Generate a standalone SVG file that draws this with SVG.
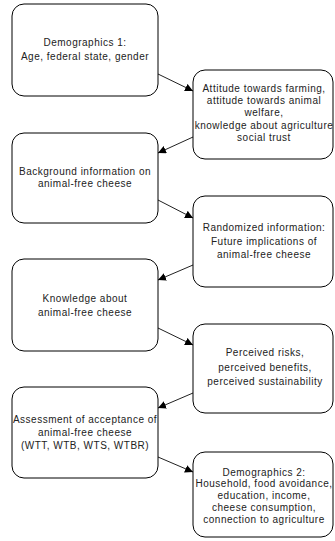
<svg xmlns="http://www.w3.org/2000/svg" width="335" height="541" viewBox="0 0 335 541">
<style>
.box{fill:#fff;stroke:#000;stroke-width:1}
text{font-family:"Liberation Sans",Arial,sans-serif;font-size:10px;letter-spacing:0.5px;fill:#222;text-anchor:middle}
.c{stroke:#222;stroke-width:1;fill:none;marker-end:url(#ah)}
</style>
<defs>
<marker id="ah" viewBox="0 0 10 10" refX="10" refY="5" markerWidth="8" markerHeight="8" orient="auto" markerUnits="userSpaceOnUse">
<path d="M0,0 L10,5 L0,10 z" fill="#000"/>
</marker>
</defs>
<rect width="335" height="541" fill="#fff"/>
<g id="connectors">
<line class="c" x1="158" y1="74" x2="193" y2="91"/>
<line class="c" x1="193" y1="137" x2="158" y2="153"/>
<line class="c" x1="158" y1="200" x2="193" y2="218"/>
<line class="c" x1="193" y1="265" x2="158" y2="280"/>
<line class="c" x1="158" y1="328" x2="193" y2="345"/>
<line class="c" x1="193" y1="393" x2="158" y2="408"/>
<line class="c" x1="158" y1="457" x2="193" y2="472"/>
</g>
<g id="n1">
<rect class="box" x="12" y="4" width="146" height="92" rx="12"/>
<text x="85" y="46">Demographics 1:</text>
<text x="85" y="60">Age, federal state, gender</text>
</g>
<g id="n2">
<rect class="box" x="193" y="70" width="140" height="89" rx="12"/>
<text x="264" y="92">Attitude towards farming,</text>
<text x="264" y="104">attitude towards animal</text>
<text x="264" y="116">welfare,</text>
<text x="264" y="129">knowledge about agriculture</text>
<text x="264" y="141">social trust</text>
</g>
<g id="n3">
<rect class="box" x="12" y="133" width="146" height="90" rx="12"/>
<text x="85" y="175">Background information on</text>
<text x="85" y="187">animal-free cheese</text>
</g>
<g id="n4">
<rect class="box" x="193" y="196" width="140" height="91" rx="12"/>
<text x="264" y="231">Randomized information:</text>
<text x="264" y="245">Future implications of</text>
<text x="264" y="258">animal-free cheese</text>
</g>
<g id="n5">
<rect class="box" x="12" y="259" width="146" height="92" rx="12"/>
<text x="85" y="302">Knowledge about</text>
<text x="85" y="316">animal-free cheese</text>
</g>
<g id="n6">
<rect class="box" x="193" y="324" width="140" height="89" rx="12"/>
<text x="265" y="356">Perceived risks,</text>
<text x="265" y="371">perceived benefits,</text>
<text x="265" y="385">perceived sustainability</text>
</g>
<g id="n7">
<rect class="box" x="12" y="387" width="146" height="91" rx="12"/>
<text x="85" y="423">Assessment of acceptance of</text>
<text x="85" y="436">animal-free cheese</text>
<text x="85" y="449">(WTT, WTB, WTS, WTBR)</text>
</g>
<g id="n8">
<rect class="box" x="193" y="452" width="140" height="85" rx="12"/>
<text x="264" y="476">Demographics 2:</text>
<text x="264" y="487">Household, food avoidance,</text>
<text x="264" y="499">education, income,</text>
<text x="264" y="511">cheese consumption,</text>
<text x="264" y="523">connection to agriculture</text>
</g>
</svg>
